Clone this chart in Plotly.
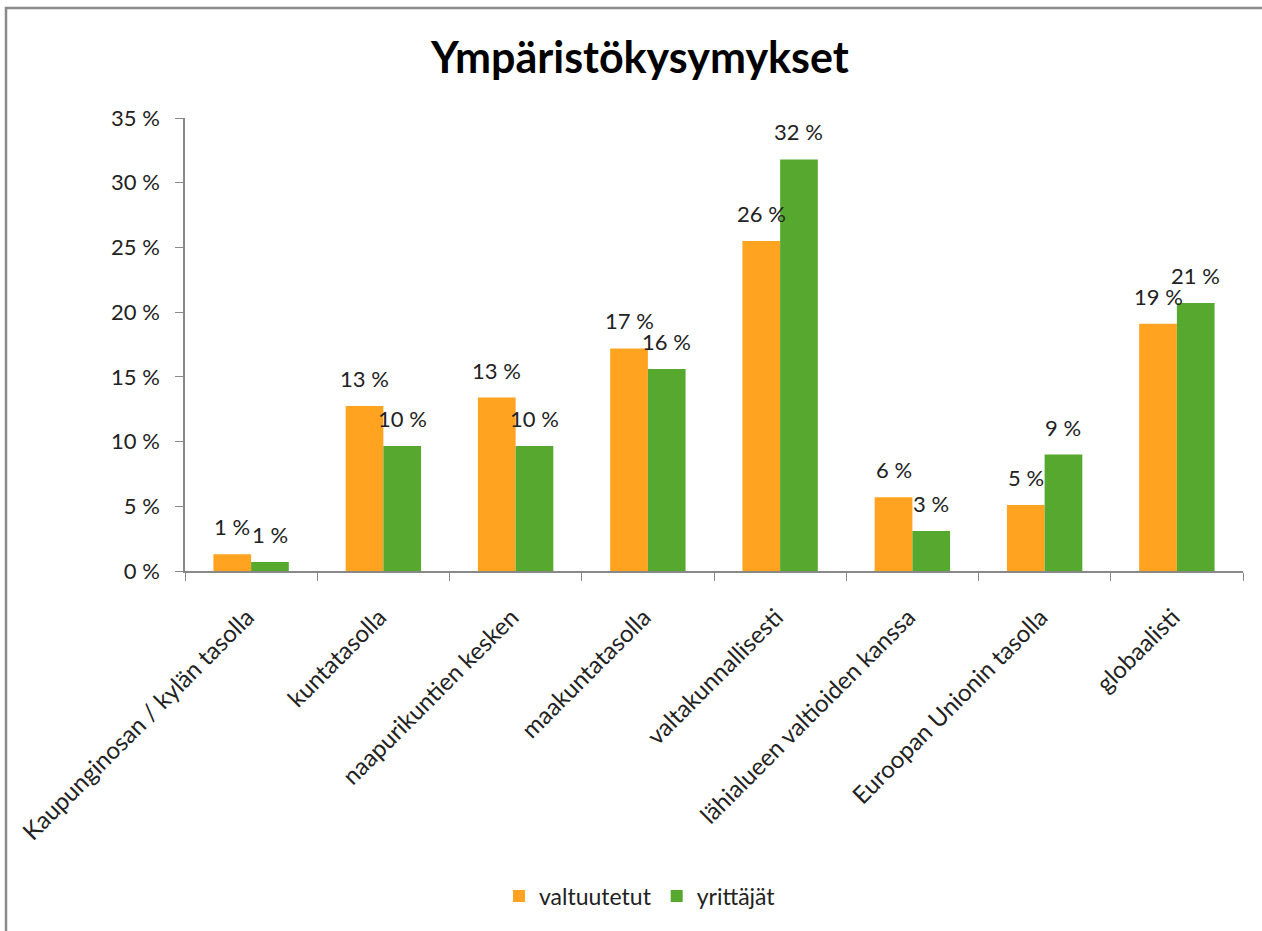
import plotly.graph_objects as go

categories = ["Kaupunginosan / kylän tasolla", "kuntatasolla", "naapurikuntien kesken",
              "maakuntatasolla", "valtakunnallisesti", "lähialueen valtioiden kanssa",
              "Euroopan Unionin tasolla", "globaalisti"]
valtuutetut = [1.3, 12.75, 13.4, 17.2, 25.5, 5.7, 5.1, 19.1]
yrittajat = [0.7, 9.66, 9.66, 15.6, 31.8, 3.1, 9.0, 20.7]
y_ticks = [0, 5, 10, 15, 20, 25, 30, 35]

FONT = "Lato"
W, H = 1262, 931
L, R, T, B = 185, 19, 118, 360
BARGAP = 0.43

pw, ph = W - L - R, H - T - B
bar_w = pw / len(categories) * (1 - BARGAP) / 2

fig = go.Figure()
series = [("valtuutetut", valtuutetut, "#FFA320", -1),
          ("yrittäjät", yrittajat, "#56A82E", 1)]
for name, vals, col, side in series:
    fig.add_bar(x=categories, y=vals, name=name, marker_color=col, marker_line_width=0)
    # value labels above each bar
    for c, v in zip(categories, vals):
        fig.add_annotation(x=c, y=v, text=f"{round(v + 1e-9)} %", showarrow=False,
                           xshift=side * bar_w / 2, yshift=12, yanchor="bottom",
                           font=dict(size=22, color="#222", family=FONT))

# chart frame (extends past the picture on the right and bottom)
fig.add_shape(type="rect", xref="paper", yref="paper",
              x0=(6 - L) / pw, x1=(1300 - L) / pw,
              y0=(H - B - 960) / ph, y1=(H - B - 8) / ph,
              line=dict(color="#8a8a8a", width=2.5))

fig.update_layout(
    width=W, height=H, margin=dict(l=L, r=R, t=T, b=B),
    plot_bgcolor="white", paper_bgcolor="white",
    barmode="group", bargap=BARGAP, bargroupgap=0,
    title=dict(text="<b>Ympäristökysymykset</b>", x=0.507, xanchor="center",
               y=1 - 58 / H, yanchor="middle",
               font=dict(size=43, family=FONT, color="black")),
    legend=dict(orientation="h", x=(640 - L) / pw, xanchor="center",
                y=(H - B - 896) / ph, yanchor="middle",
                font=dict(size=23, family=FONT, color="#222"), itemwidth=30),
    font=dict(family=FONT, color="#222"),
    showlegend=True,
)
fig.update_xaxes(showline=True, linecolor="#888", linewidth=1.5, ticks="outside",
                 tickson="boundaries", ticklen=8, tickcolor="#888", tickangle=-45,
                 ticklabelstandoff=21, ticklabelshift=-4, automargin=False,
                 tickfont=dict(size=24, family=FONT, color="#222"), showgrid=False)
fig.update_yaxes(range=[0, 35], showline=True, linecolor="#888", linewidth=1.5,
                 ticks="outside", ticklen=8, tickcolor="#888", showgrid=False,
                 tickvals=y_ticks, ticktext=[f"{v} %" for v in y_ticks], automargin=False,
                 ticklabelstandoff=11,
                 tickfont=dict(size=22, family=FONT, color="#222"), zeroline=False)

fig.write_html("out.html", config={"displayModeBar": False},
               post_script="document.body.style.margin='0';")
